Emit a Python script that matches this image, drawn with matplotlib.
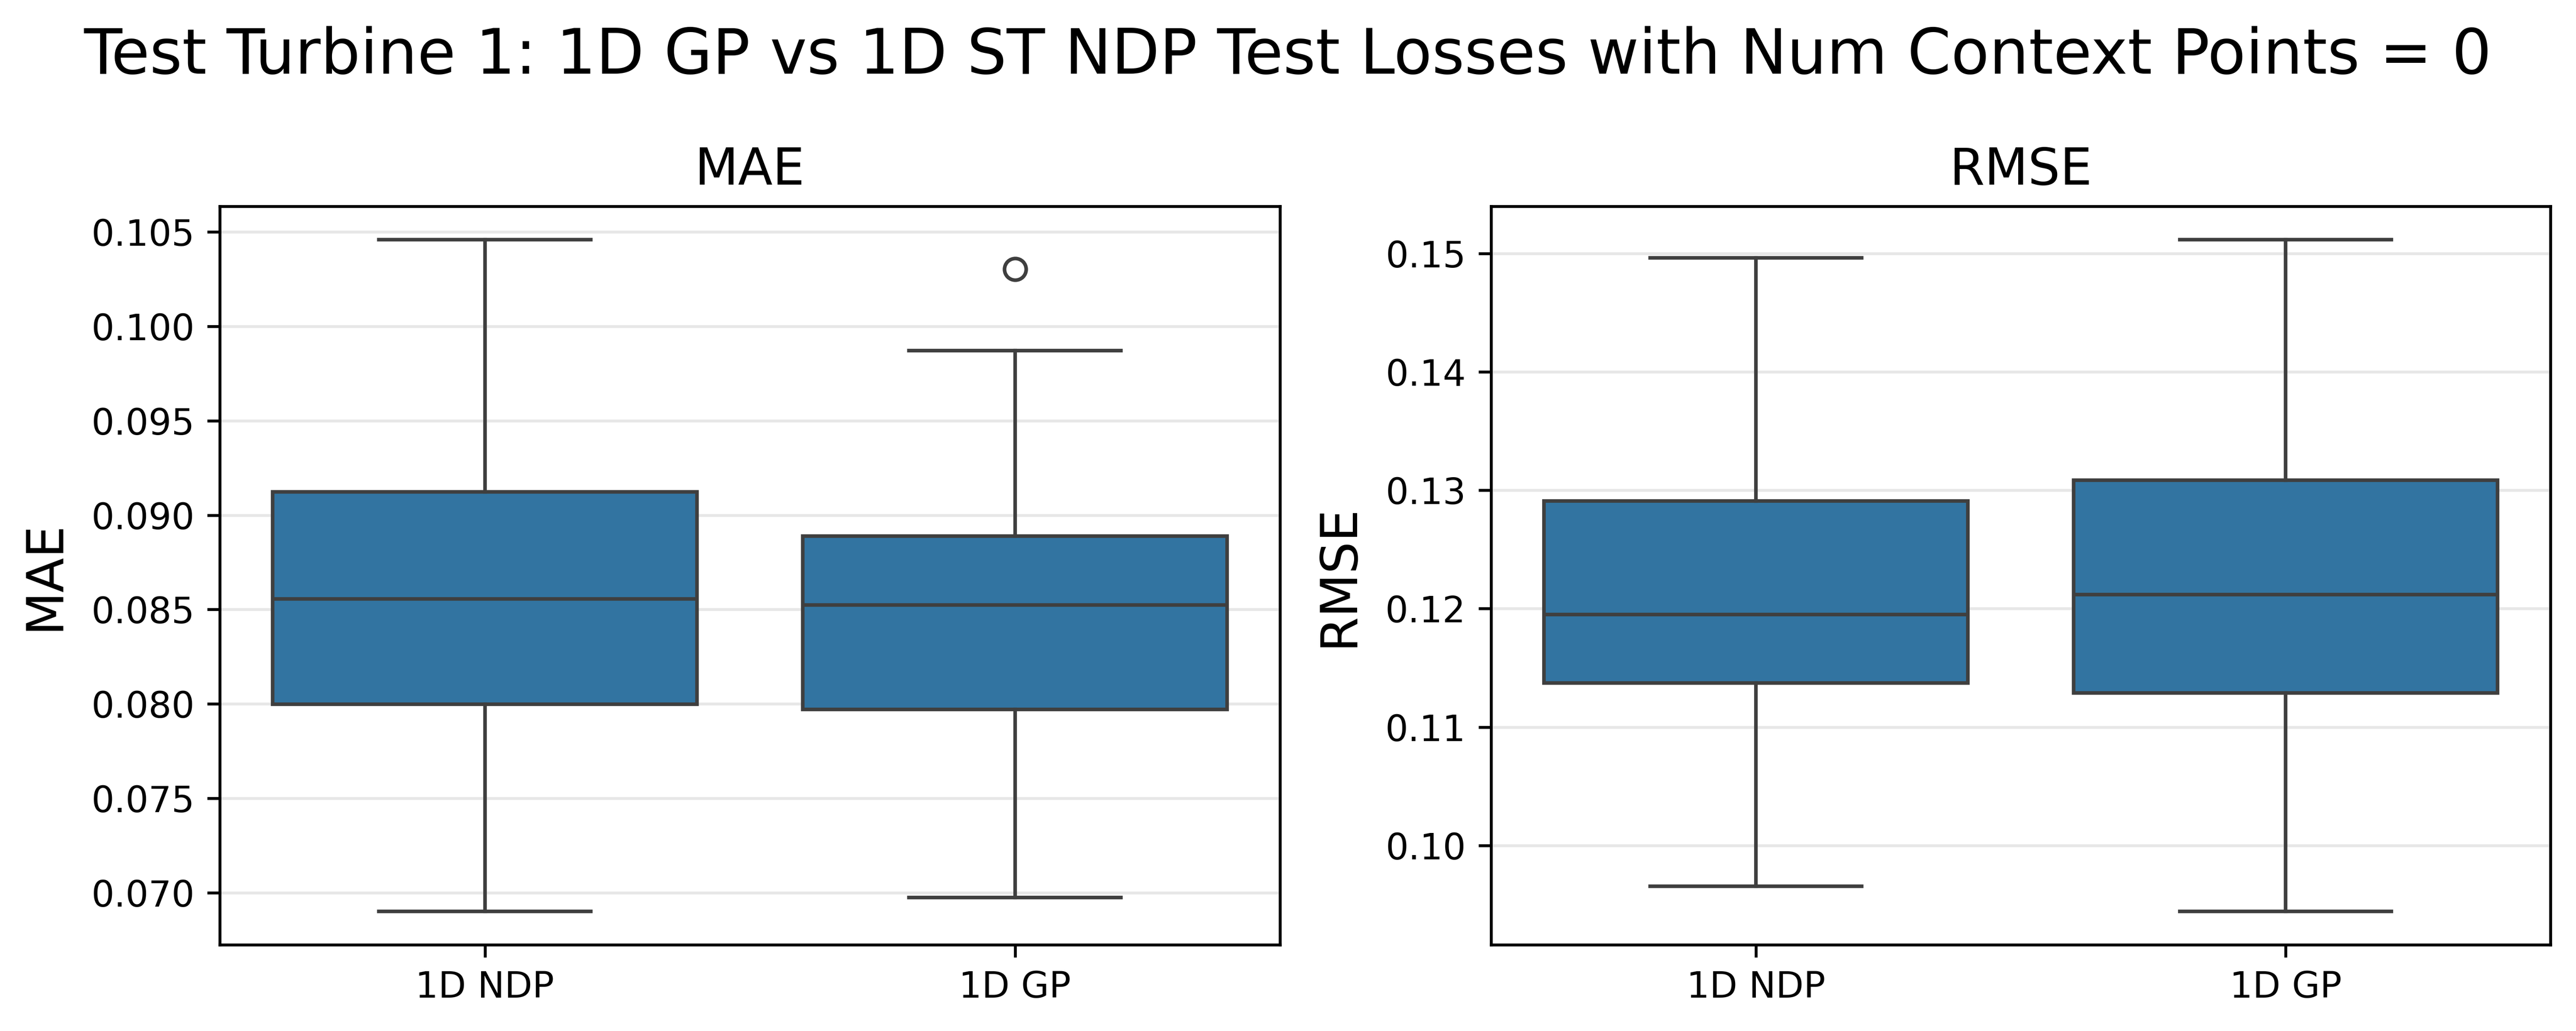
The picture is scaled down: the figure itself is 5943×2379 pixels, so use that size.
import matplotlib
matplotlib.use("Agg")
import matplotlib.pyplot as plt

# ---- data ----
categories = ["1D NDP", "1D GP"]

mae_whislo = [0.06902, 0.06975]
mae_q1 = [0.07999, 0.07971]
mae_med = [0.08555, 0.08524]
mae_q3 = [0.09123, 0.08889]
mae_whishi = [0.10458, 0.09871]
mae_fliers = [[], [0.10302]]

rmse_whislo = [0.09654, 0.09445]
rmse_q1 = [0.11372, 0.11288]
rmse_med = [0.11949, 0.12118]
rmse_q3 = [0.12909, 0.13086]
rmse_whishi = [0.14964, 0.15115]
rmse_fliers = [[], []]

suptitle = "Test Turbine 1: 1D GP vs 1D ST NDP Test Losses with Num Context Points = 0"

BOX_COLOR = "#3274a1"
LINE_COLOR = "#3f3f3f"

W, H, DPI = 5943, 2379, 600
fig = plt.figure(figsize=(W / DPI, H / DPI), dpi=DPI)

ax1 = fig.add_axes([507 / W, 1 - 2180 / H, (2953 - 507) / W, (2180 - 476) / H])
ax2 = fig.add_axes([3440 / W, 1 - 2180 / H, (5884 - 3440) / W, (2180 - 476) / H])


def draw(ax, lo, q1, med, q3, hi, fliers, title):
    stats = []
    for i, lab in enumerate(categories):
        stats.append(dict(label=lab, whislo=lo[i], q1=q1[i], med=med[i],
                          q3=q3[i], whishi=hi[i], fliers=fliers[i]))
    ax.bxp(stats, positions=range(len(categories)), widths=0.8,
           capwidths=0.4, patch_artist=True,
           boxprops=dict(facecolor=BOX_COLOR, edgecolor=LINE_COLOR, linewidth=1.0),
           medianprops=dict(color=LINE_COLOR, linewidth=1.0),
           whiskerprops=dict(color=LINE_COLOR, linewidth=1.0),
           capprops=dict(color=LINE_COLOR, linewidth=1.0),
           flierprops=dict(marker="o", markerfacecolor="none",
                           markeredgecolor=LINE_COLOR, markersize=6,
                           markeredgewidth=1.0))
    ax.set_xlim(-0.5, len(categories) - 0.5)
    ax.set_xticks(range(len(categories)))
    ax.set_xticklabels(categories, fontsize=10)
    ax.tick_params(axis="y", labelsize=10)
    ax.grid(axis="y", alpha=0.3)
    ax.set_axisbelow(True)
    ax.set_title(title, fontsize=14)
    ax.set_ylabel(title, fontsize=14, labelpad=6)


draw(ax1, mae_whislo, mae_q1, mae_med, mae_q3, mae_whishi, mae_fliers, "MAE")
draw(ax2, rmse_whislo, rmse_q1, rmse_med, rmse_q3, rmse_whishi, rmse_fliers, "RMSE")

fig.text(0.5, 1 - 170 / H, suptitle, fontsize=17.3, ha="center", va="baseline")

fig.savefig("out.png", dpi=DPI)
